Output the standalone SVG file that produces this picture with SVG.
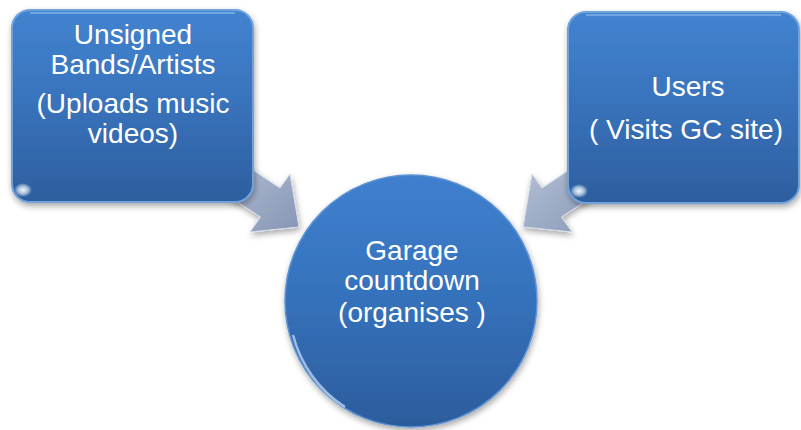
<svg xmlns="http://www.w3.org/2000/svg" width="801" height="430" viewBox="0 0 801 430">
  <defs>
    <linearGradient id="boxFill" x1="0" y1="0" x2="0" y2="1">
      <stop offset="0" stop-color="#4283d0"/>
      <stop offset="0.5" stop-color="#3872bb"/>
      <stop offset="1" stop-color="#2d5e9e"/>
    </linearGradient>
    <linearGradient id="circFill" x1="0" y1="0" x2="0" y2="1">
      <stop offset="0" stop-color="#3f80cf"/>
      <stop offset="0.5" stop-color="#3571bb"/>
      <stop offset="1" stop-color="#2c5c9c"/>
    </linearGradient>
    <linearGradient id="arrowFill" x1="0" y1="0" x2="1" y2="1">
      <stop offset="0" stop-color="#b7c3d8"/>
      <stop offset="0.5" stop-color="#9eacc6"/>
      <stop offset="1" stop-color="#8796b3"/>
    </linearGradient>
    <radialGradient id="spot" cx="0.5" cy="0.5" r="0.5">
      <stop offset="0" stop-color="#ffffff" stop-opacity="0.95"/>
      <stop offset="0.5" stop-color="#e6f0fc" stop-opacity="0.7"/>
      <stop offset="1" stop-color="#ffffff" stop-opacity="0"/>
    </radialGradient>
    <filter id="shadow" x="-10%" y="-10%" width="125%" height="125%">
      <feGaussianBlur in="SourceAlpha" stdDeviation="3"/>
      <feOffset dx="1" dy="3" result="b"/>
      <feComponentTransfer><feFuncA type="linear" slope="0.35"/></feComponentTransfer>
      <feMerge><feMergeNode/><feMergeNode in="SourceGraphic"/></feMerge>
    </filter>
  </defs>
  <style>
    .box { fill: url(#boxFill); stroke: #6fa2dc; stroke-width: 2; }
    .circ { fill: url(#circFill); stroke: #5d93d4; stroke-width: 1.5; }
    .arrow { fill: url(#arrowFill); stroke: #d8e0ec; stroke-width: 1; stroke-linejoin: miter; }
    .hl { fill: none; stroke: #8fbcef; stroke-width: 2; stroke-opacity: 0.6; }
    .t { font-family: "Liberation Sans", Arial, sans-serif; font-size: 28px; fill: #ffffff; text-anchor: middle; }
  </style>

  <g id="connectors">
    <polygon class="arrow" filter="url(#shadow)" points="230,155 280,188 290,174 299,227 250,232 260.5,217 210,184"/>
    <polygon class="arrow" filter="url(#shadow)" points="592,155 542,188 532,174 523,227 572,232 561.5,217 612,184"/>
  </g>

  <g id="node-bands">
    <rect class="box" filter="url(#shadow)" x="12" y="10" width="241" height="192" rx="18" ry="18"/>
    <path class="hl" d="M30,13 H235"/>
    <ellipse cx="23" cy="190" rx="9" ry="7" fill="url(#spot)"/>
    <text class="t" x="133" y="44">Unsigned</text>
    <text class="t" x="133" y="74">Bands/Artists</text>
    <text class="t" x="133" y="113">(Uploads music</text>
    <text class="t" x="133" y="143">videos)</text>
  </g>

  <g id="node-users">
    <rect class="box" filter="url(#shadow)" x="568" y="12" width="231" height="191" rx="18" ry="18"/>
    <path class="hl" d="M586,15 H781"/>
    <ellipse cx="579" cy="191" rx="9" ry="7" fill="url(#spot)"/>
    <text class="t" x="688" y="96">Users</text>
    <text class="t" x="686" y="139">( Visits GC site)</text>
  </g>

  <g id="node-gc">
    <circle class="circ" filter="url(#shadow)" cx="411" cy="301" r="126"/>
    <path d="M293,335 A122,122 0 0 0 345,407" fill="none" stroke="#cfe2fa" stroke-width="2.5" stroke-opacity="0.7"/>
    <text class="t" x="412" y="260">Garage</text>
    <text class="t" x="412" y="290">countdown</text>
    <text class="t" x="412" y="322">(organises )</text>
  </g>
</svg>
